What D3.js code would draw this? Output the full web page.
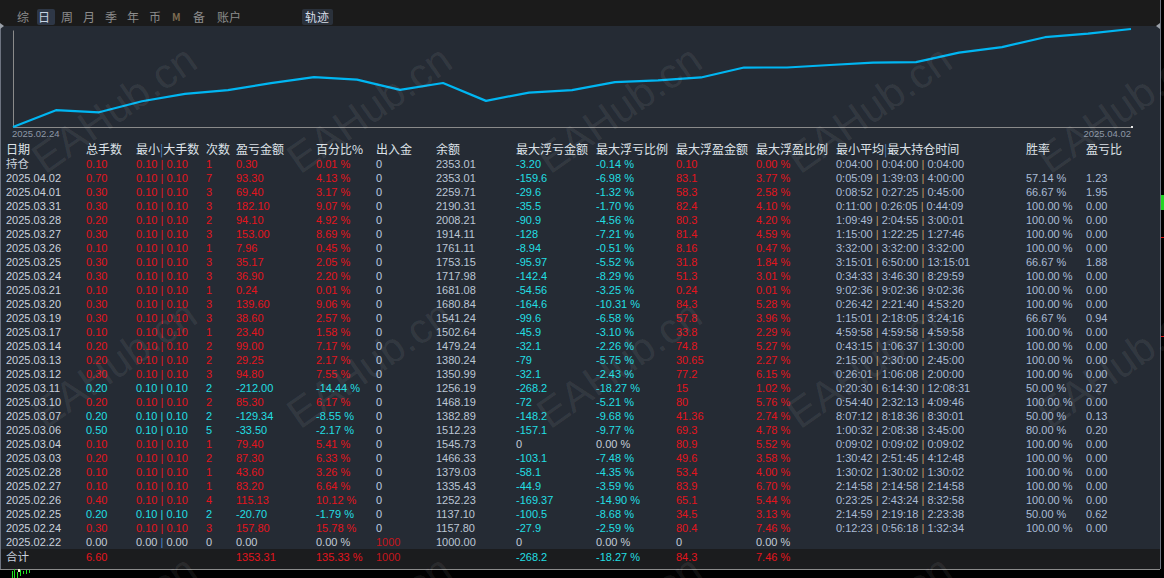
<!DOCTYPE html>
<html>
<head>
<meta charset="utf-8">
<script src="https://cdn.jsdelivr.net/npm/d3@7"></script>
<style>
  html, body { margin: 0; padding: 0; background: #000; overflow: hidden; }
  svg { display: block; font-family: "Liberation Sans", "Noto Sans CJK SC", sans-serif; }
  .cjk { font-family: "Noto Sans CJK SC", sans-serif; }
</style>
</head>
<body>
<div id="chart-area"></div>
<script>
// ---- data ----
var tabs = ['综', '日', '周', '月', '季', '年', '币', 'M', '备', '账户'];
var headers = ['日期', '总手数', '最小|大手数', '次数', '盈亏金额', '百分比%', '出入金', '余额',
	'最大浮亏金额', '最大浮亏比例', '最大浮盈金额', '最大浮盈比例', '最小平均|最大持仓时间', '胜率', '盈亏比'];

var dates = ['持仓', '2025.04.02', '2025.04.01', '2025.03.31', '2025.03.28', '2025.03.27', '2025.03.26',
	'2025.03.25', '2025.03.24', '2025.03.21', '2025.03.20', '2025.03.19', '2025.03.17', '2025.03.14',
	'2025.03.13', '2025.03.12', '2025.03.11', '2025.03.10', '2025.03.07', '2025.03.06', '2025.03.04',
	'2025.03.03', '2025.02.28', '2025.02.27', '2025.02.26', '2025.02.25', '2025.02.24', '2025.02.22'];
var lots = ['0.10', '0.70', '0.30', '0.30', '0.20', '0.30', '0.10', '0.30', '0.30', '0.10', '0.30', '0.30', '0.10', '0.20',
	'0.20', '0.30', '0.20', '0.20', '0.20', '0.50', '0.10', '0.20', '0.10', '0.10', '0.40', '0.20', '0.30', '0.00'];
var minMaxLots = ['0.10 | 0.10', '0.10 | 0.10', '0.10 | 0.10', '0.10 | 0.10', '0.10 | 0.10', '0.10 | 0.10', '0.10 | 0.10',
	'0.10 | 0.10', '0.10 | 0.10', '0.10 | 0.10', '0.10 | 0.10', '0.10 | 0.10', '0.10 | 0.10', '0.10 | 0.10',
	'0.10 | 0.10', '0.10 | 0.10', '0.10 | 0.10', '0.10 | 0.10', '0.10 | 0.10', '0.10 | 0.10', '0.10 | 0.10',
	'0.10 | 0.10', '0.10 | 0.10', '0.10 | 0.10', '0.10 | 0.10', '0.10 | 0.10', '0.10 | 0.10', '0.00 | 0.00'];
var trades = [1, 7, 3, 3, 2, 3, 1, 3, 3, 1, 3, 3, 1, 2, 2, 3, 2, 2, 2, 5, 1, 2, 1, 1, 4, 2, 3, 0];
var profit = ['0.30', '93.30', '69.40', '182.10', '94.10', '153.00', '7.96', '35.17', '36.90', '0.24', '139.60', '38.60',
	'23.40', '99.00', '29.25', '94.80', '-212.00', '85.30', '-129.34', '-33.50', '79.40', '87.30', '43.60', '83.20',
	'115.13', '-20.70', '157.80', '0.00'];
var profitPct = ['0.01', '4.13', '3.17', '9.07', '4.92', '8.69', '0.45', '2.05', '2.20', '0.01', '9.06', '2.57', '1.58',
	'7.17', '2.17', '7.55', '-14.44', '6.17', '-8.55', '-2.17', '5.41', '6.33', '3.26', '6.64', '10.12', '-1.79', '15.78', '0.00'];
var deposit = [0, 0, 0, 0, 0, 0, 0, 0, 0, 0, 0, 0, 0, 0, 0, 0, 0, 0, 0, 0, 0, 0, 0, 0, 0, 0, 0, 1000];
var balance = [2353.01, 2353.01, 2259.71, 2190.31, 2008.21, 1914.11, 1761.11, 1753.15, 1717.98, 1681.08, 1680.84,
	1541.24, 1502.64, 1479.24, 1380.24, 1350.99, 1256.19, 1468.19, 1382.89, 1512.23, 1545.73, 1466.33, 1379.03,
	1335.43, 1252.23, 1137.10, 1157.80, 1000.00];
var floatLoss = ['-3.20', '-159.6', '-29.6', '-35.5', '-90.9', '-128', '-8.94', '-95.97', '-142.4', '-54.56', '-164.6',
	'-99.6', '-45.9', '-32.1', '-79', '-32.1', '-268.2', '-72', '-148.2', '-157.1', '0', '-103.1', '-58.1', '-44.9',
	'-169.37', '-100.5', '-27.9', '0'];
var floatLossPct = ['-0.14', '-6.98', '-1.32', '-1.70', '-4.56', '-7.21', '-0.51', '-5.52', '-8.29', '-3.25', '-10.31',
	'-6.58', '-3.10', '-2.26', '-5.75', '-2.43', '-18.27', '-5.21', '-9.68', '-9.77', '0.00', '-7.48', '-4.35', '-3.59',
	'-14.90', '-8.68', '-2.59', '0.00'];
var floatProfit = ['0.10', '83.1', '58.3', '82.4', '80.3', '81.4', '8.16', '31.8', '51.3', '0.24', '84.3', '57.8', '33.8',
	'74.8', '30.65', '77.2', '15', '80', '41.36', '69.3', '80.9', '49.6', '53.4', '83.9', '65.1', '34.5', '80.4', '0'];
var floatProfitPct = ['0.00', '3.77', '2.58', '4.10', '4.20', '4.59', '0.47', '1.84', '3.01', '0.01', '5.28', '3.96',
	'2.29', '5.27', '2.27', '6.15', '1.02', '5.76', '2.74', '4.78', '5.52', '3.58', '4.00', '6.70', '5.44', '3.13', '7.46', '0.00'];
var holdTimes = ['0:04:00 | 0:04:00 | 0:04:00', '0:05:09 | 1:39:03 | 4:00:00', '0:08:52 | 0:27:25 | 0:45:00',
	'0:11:00 | 0:26:05 | 0:44:09', '1:09:49 | 2:04:55 | 3:00:01', '1:15:00 | 1:22:25 | 1:27:46',
	'3:32:00 | 3:32:00 | 3:32:00', '3:15:01 | 6:50:00 | 13:15:01', '0:34:33 | 3:46:30 | 8:29:59',
	'9:02:36 | 9:02:36 | 9:02:36', '0:26:42 | 2:21:40 | 4:53:20', '1:15:01 | 2:18:05 | 3:24:16',
	'4:59:58 | 4:59:58 | 4:59:58', '0:43:15 | 1:06:37 | 1:30:00', '2:15:00 | 2:30:00 | 2:45:00',
	'0:26:01 | 1:06:08 | 2:00:00', '0:20:30 | 6:14:30 | 12:08:31', '0:54:40 | 2:32:13 | 4:09:46',
	'8:07:12 | 8:18:36 | 8:30:01', '1:00:32 | 2:08:38 | 3:45:00', '0:09:02 | 0:09:02 | 0:09:02',
	'1:30:42 | 2:51:45 | 4:12:48', '1:30:02 | 1:30:02 | 1:30:02', '2:14:58 | 2:14:58 | 2:14:58',
	'0:23:25 | 2:43:24 | 8:32:58', '2:14:59 | 2:19:18 | 2:23:38', '0:12:23 | 0:56:18 | 1:32:34', ''];
var winRate = ['', '57.14', '66.67', '100.00', '100.00', '100.00', '100.00', '66.67', '100.00', '100.00', '100.00',
	'66.67', '100.00', '100.00', '100.00', '100.00', '50.00', '100.00', '50.00', '80.00', '100.00', '100.00',
	'100.00', '100.00', '100.00', '50.00', '100.00', ''];
var plRatio = ['', '1.23', '1.95', '0.00', '0.00', '0.00', '0.00', '1.88', '0.00', '0.00', '0.00', '0.94', '0.00',
	'0.00', '0.00', '0.00', '0.27', '0.00', '0.13', '0.20', '0.00', '0.00', '0.00', '0.00', '0.00', '0.62', '0.00', ''];

var totals = { lots: '6.60', profit: '1353.31', pct: '135.33', deposit: 1000,
	floatLoss: '-268.2', floatLossPct: '-18.27', floatProfit: '84.3', floatProfitPct: '7.46' };
var axisLabels = ['2025.02.24', '2025.04.02'];

// ---- colours ----
var RED = '#e3141d', DARKRED = '#c4161d', CYAN = '#22dfe3', GREY = '#c4ccd8', TIME = '#aabcd6', BAR_BLUE = '#4d86c8';
function signColor(s) {
	var v = +s;
	return v > 0 ? RED : (v < 0 ? CYAN : GREY);
}

var W = 1164, H = 578;
var svg = d3.select('#chart-area').append('svg').attr('width', W).attr('height', H);

svg.append('rect').attr('width', W).attr('height', H).attr('fill', '#000');
// top bar
svg.append('rect').attr('width', 1160).attr('height', 26).attr('fill', '#1b1b1b');
// main panel
svg.append('rect').attr('x', 0).attr('y', 26).attr('width', 1160).attr('height', 523).attr('fill', '#252b34');
// totals band
svg.append('rect').attr('x', 0).attr('y', 549).attr('width', 1160).attr('height', 20).attr('fill', '#1b1c1e');
svg.append('line').attr('x1', 0).attr('x2', 1160).attr('y1', 569.5).attr('y2', 569.5).attr('stroke', '#8a8a8a');
svg.append('line').attr('x1', 0.5).attr('x2', 0.5).attr('y1', 26).attr('y2', 569).attr('stroke', '#6d7380');
svg.append('line').attr('x1', 1160.5).attr('x2', 1160.5).attr('y1', 0).attr('y2', 569).attr('stroke', '#6d7380');
svg.append('path').attr('d', 'M0,23 L4,26 L0,29 Z').attr('fill', '#9aa0a8');
svg.append('path').attr('d', 'M1160,23 L1156,26 L1160,29 Z').attr('fill', '#9aa0a8');

// right edge markers and stray candles from the terminal behind
svg.append('rect').attr('x', 1161).attr('y', 195).attr('width', 3).attr('height', 15).attr('fill', '#22d622');
svg.append('rect').attr('x', 1161).attr('y', 237).attr('width', 3).attr('height', 1).attr('fill', '#e01010');
svg.append('rect').attr('x', 1161).attr('y', 336).attr('width', 3).attr('height', 1).attr('fill', '#e01010');
[[12, 571, 578], [14, 569, 578], [17, 572, 578], [20, 570, 576], [23, 571, 574], [26, 570, 574], [29, 570, 573]].forEach(c => {
	svg.append('line').attr('x1', c[0] + 0.5).attr('x2', c[0] + 0.5).attr('y1', c[1]).attr('y2', c[2])
		.attr('stroke', '#22e022');
});
svg.append('rect').attr('x', 18).attr('y', 569).attr('width', 2).attr('height', 3).attr('fill', '#f0f0d0');

// ---- tabs ----
var tabX = [17, 38, 61, 83, 105, 127, 149, 172, 193, 217];
svg.append('rect').attr('x', 37).attr('y', 9).attr('width', 18).attr('height', 16).attr('rx', 2).attr('fill', '#2e3746');
svg.append('rect').attr('x', 302).attr('y', 9).attr('width', 31).attr('height', 16).attr('rx', 2).attr('fill', '#2a313b');
tabs.forEach((t, i) => {
	var isM = t === 'M';
	svg.append('text')
		.attr('class', 'cjk')
		.attr('x', tabX[i])
		.attr('y', isM ? 21 : 22)
		.attr('font-size', isM ? '10px' : '12px')
		.attr('font-weight', isM ? 'bold' : 'normal')
		.attr('fill', t === '日' ? '#c8d4e4' : (isM ? '#7d6c52' : '#8c8c8c'))
		.text(t);
});
svg.append('text').attr('class', 'cjk').attr('x', 305).attr('y', 22).attr('font-size', '12px')
	.attr('fill', '#d6dde6').text('轨迹');

// ---- balance curve ----
var curveDates = dates.slice(1).reverse();
var curveBalance = balance.slice(1).reverse();

var x = d3.scalePoint().domain(curveDates).range([13, 1131]);
var y = d3.scaleLog().domain([1000, 2353.01]).range([127, 29]);

var chart = svg.append('g');
var xAxis = chart.append('g').attr('transform', 'translate(0, 127)')
	.call(d3.axisBottom(x).tickValues([]).tickSizeOuter(0));
xAxis.select('.domain').attr('stroke', '#8a8a8a');
var yAxis = chart.append('g').attr('transform', 'translate(13, 0)')
	.call(d3.axisLeft(y.copy().range([127, 30])).tickValues([]).tickSizeOuter(0));
yAxis.select('.domain').attr('stroke', '#8a8a8a');
chart.append('rect').attr('x', 1131).attr('y', 126).attr('width', 2).attr('height', 2).attr('fill', '#e8e8e8');

chart.append('text').attr('x', x(curveDates[0]) - 1).attr('y', 137)
	.attr('font-size', '9.5px').attr('fill', '#8d97a6').text(axisLabels[0]);
chart.append('text').attr('x', x(curveDates[curveDates.length - 1])).attr('y', 137)
	.attr('text-anchor', 'end').attr('font-size', '9.5px').attr('fill', '#8d97a6').text(axisLabels[1]);

var line = d3.line().x((d, i) => x(curveDates[i])).y(d => y(d));
chart.append('path')
	.datum(curveBalance)
	.attr('d', line)
	.attr('fill', 'none')
	.attr('stroke', '#00b6f2')
	.attr('stroke-width', 2.2)
	.attr('stroke-linejoin', 'round');

// ---- table ----
var colX = [6, 86, 136, 206, 236, 316, 376, 436, 516, 596, 676, 756, 836, 1026, 1086];
var table = svg.append('g');

headers.forEach((h, i) => {
	var t = table.append('text').attr('class', 'cjk').attr('x', colX[i]).attr('y', 153.5)
		.attr('font-size', '12px').attr('fill', '#dde2e8');
	if (h.indexOf('|') >= 0) {
		var parts = h.split('|');
		t.append('tspan').text(parts[0]);
		t.append('tspan').attr('fill', BAR_BLUE).text('|');
		t.append('tspan').text(parts[1]);
	} else {
		t.text(h);
	}
});

function rowY(i) { return 168 + i * 14; }

function cell(xPos, yPos, str, color, cls) {
	return table.append('text').attr('class', cls || null).attr('x', xPos).attr('y', yPos)
		.attr('font-size', cls ? '11.5px' : '11px').attr('fill', color).text(str);
}

function splitCell(xPos, yPos, str, color, barColor) {
	var t = table.append('text').attr('x', xPos).attr('y', yPos).attr('font-size', '11px').attr('fill', color)
		.attr('xml:space', 'preserve');
	str.split(' | ').forEach((p, k) => {
		if (k > 0) t.append('tspan').attr('fill', barColor).text(' | ');
		t.append('tspan').text(p);
	});
}

dates.forEach((d, i) => {
	var yy = rowY(i);
	var c = signColor(profit[i]);
	cell(colX[0], yy, d, '#c9d1dd', i === 0 ? 'cjk' : null);
	cell(colX[1], yy, lots[i], c);
	splitCell(colX[2], yy, minMaxLots[i], c, c === GREY ? BAR_BLUE : c);
	cell(colX[3], yy, trades[i], c);
	cell(colX[4], yy, profit[i], c);
	cell(colX[5], yy, profitPct[i] + ' %', c);
	cell(colX[6], yy, deposit[i], deposit[i] > 0 ? DARKRED : '#bccbe0');
	cell(colX[7], yy, d3.format('.2f')(balance[i]), '#bcc6d4');
	var lc = signColor(floatLoss[i]);
	cell(colX[8], yy, floatLoss[i], lc);
	cell(colX[9], yy, floatLossPct[i] + ' %', lc);
	var pc = signColor(floatProfit[i]);
	cell(colX[10], yy, floatProfit[i], pc);
	cell(colX[11], yy, floatProfitPct[i] + ' %', pc);
	if (holdTimes[i]) splitCell(colX[12], yy, holdTimes[i], TIME, '#c29a62');
	if (winRate[i]) cell(colX[13], yy, winRate[i] + ' %', TIME);
	if (plRatio[i]) cell(colX[14], yy, plRatio[i], TIME);
});

// totals row
var ty = 561;
cell(colX[0], ty, '合计', '#c9d1dd', 'cjk');
cell(colX[1], ty, totals.lots, RED);
cell(colX[4], ty, totals.profit, RED);
cell(colX[5], ty, totals.pct + ' %', RED);
cell(colX[6], ty, totals.deposit, DARKRED);
cell(colX[8], ty, totals.floatLoss, CYAN);
cell(colX[9], ty, totals.floatLossPct + ' %', CYAN);
cell(colX[10], ty, totals.floatProfit, RED);
cell(colX[11], ty, totals.floatProfitPct + ' %', RED);

// ---- watermark tiles ----
var wmX = [45, 300, 550, 800, 1050];
var wmY = [175, 430, 685];
var wm = svg.append('g').attr('pointer-events', 'none');
wmY.forEach(wy => {
	wmX.forEach(wx => {
		wm.append('text')
			.attr('transform', `translate(${wx}, ${wy}) rotate(-35)`)
			.attr('font-size', '42px')
			.attr('fill', '#ffffff')
			.attr('fill-opacity', 0.08)
			.text('EAHub.cn');
	});
});
</script>
</body>
</html>
